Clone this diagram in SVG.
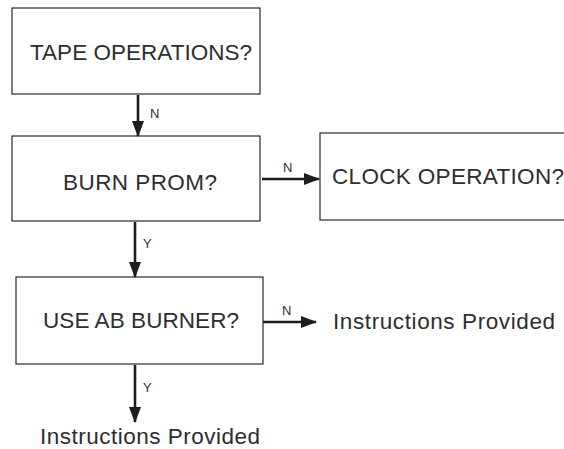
<svg xmlns="http://www.w3.org/2000/svg" width="564" height="449" viewBox="0 0 564 449">
  <style>
    .box { fill: #ffffff; stroke: #2a2a2a; stroke-width: 1.2; }
    .txt { font-family: "Liberation Sans", Arial, sans-serif; font-size: 22.5px; fill: #2e2e2e; }
    .lbl { font-family: "Liberation Sans", Arial, sans-serif; font-size: 13px; fill: #2e2e2e; }
    .wire { stroke: #1e1e1e; stroke-width: 2.6; fill: none; marker-end: url(#head); }
  </style>
  <defs>
    <marker id="head" markerUnits="userSpaceOnUse" markerWidth="16" markerHeight="12" refX="15" refY="6" orient="auto">
      <path d="M0,0 L16,6 L0,12 Z" fill="#1e1e1e"/>
    </marker>
  </defs>
  <rect width="564" height="449" fill="#ffffff"/>

  <g id="tape">
    <rect class="box" x="12" y="8" width="248" height="86"/>
    <text class="txt" x="141" y="60" text-anchor="middle" textLength="222">TAPE OPERATIONS?</text>
  </g>
  <g id="burn">
    <rect class="box" x="12" y="136" width="248" height="85"/>
    <text class="txt" x="140" y="190" text-anchor="middle" textLength="154">BURN PROM?</text>
  </g>
  <g id="clock">
    <rect class="box" x="320" y="133" width="260" height="87"/>
    <text class="txt" x="332" y="184" textLength="232">CLOCK OPERATION?</text>
  </g>
  <g id="burner">
    <rect class="box" x="16" y="277" width="247" height="87"/>
    <text class="txt" x="43" y="328" textLength="196">USE AB BURNER?</text>
  </g>
  <g id="result-right">
    <text class="txt" x="333" y="329" textLength="222">Instructions Provided</text>
  </g>
  <g id="result-bottom">
    <text class="txt" x="40" y="444" textLength="220">Instructions Provided</text>
  </g>

  <g id="connectors">
    <line class="wire" x1="138" y1="95" x2="138" y2="136"/>
    <text class="lbl" x="150" y="118">N</text>
    <line class="wire" x1="262" y1="179" x2="319" y2="179"/>
    <text class="lbl" x="283" y="172">N</text>
    <line class="wire" x1="135" y1="222" x2="135" y2="277"/>
    <text class="lbl" x="143" y="248">Y</text>
    <line class="wire" x1="263" y1="322" x2="316" y2="322"/>
    <text class="lbl" x="282" y="315">N</text>
    <line class="wire" x1="135" y1="365" x2="135" y2="422"/>
    <text class="lbl" x="143" y="392">Y</text>
  </g>
</svg>
